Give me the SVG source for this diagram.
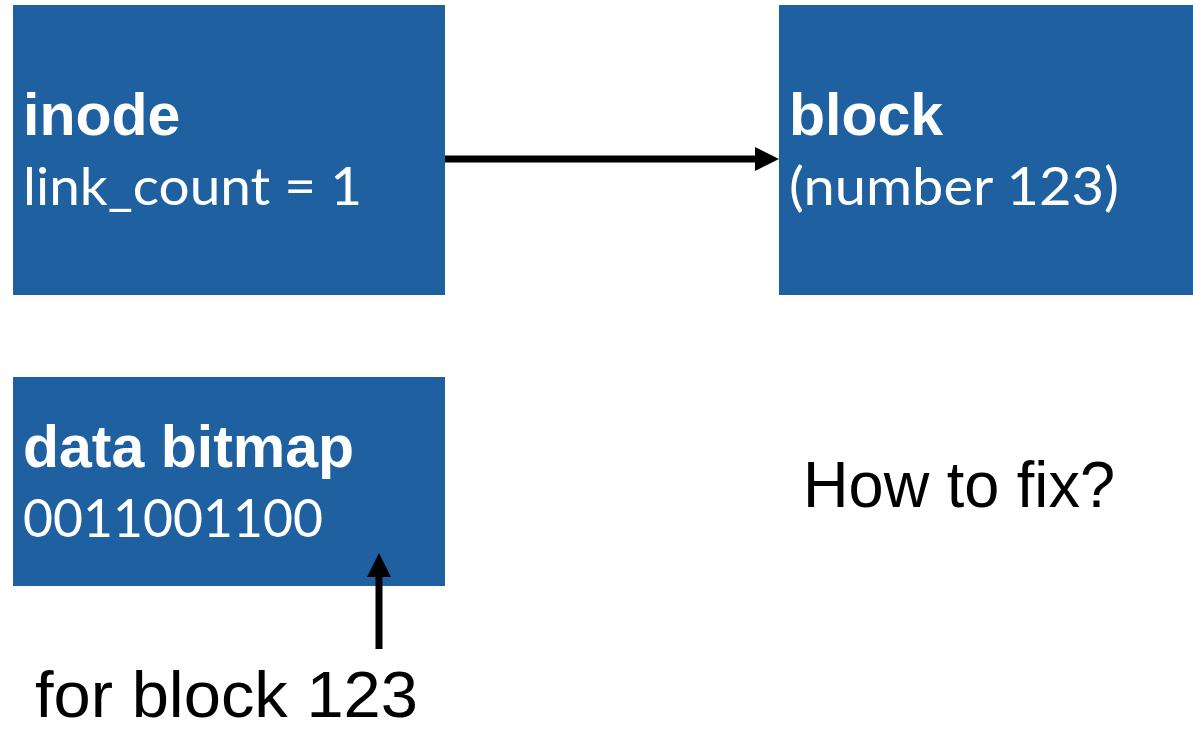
<svg xmlns="http://www.w3.org/2000/svg" width="1193" height="730" viewBox="0 0 1193 730">
<style>
.box{fill:#1f61a0}
.title{font-family:"Liberation Sans",Arial,sans-serif;font-weight:bold;font-size:59px;fill:#fff}
.sub{font-family:Lato,"Noto Sans",sans-serif;font-size:53px;fill:#fff}
.plain{font-family:"Liberation Sans",Arial,sans-serif;font-size:64px;fill:#000}
.conn{stroke:#000;stroke-width:7;fill:none}
</style>
<defs>
<marker id="ah" markerUnits="userSpaceOnUse" markerWidth="24" markerHeight="24" refX="0" refY="12" orient="auto">
<path d="M0,0 L24,12 L0,24 Z" fill="#000"/>
</marker>
</defs>
<rect width="1193" height="730" fill="#fff"/>
<g id="inode">
<rect class="box" x="13" y="5" width="432" height="290"/>
<text class="title" x="23" y="135">inode</text>
<text class="sub" x="23" y="205" textLength="339" lengthAdjust="spacingAndGlyphs">link_count = 1</text>
</g>
<g id="block">
<rect class="box" x="779" y="5" width="414" height="290"/>
<text class="title" x="789" y="135">block</text>
<text class="sub" x="789" y="205" textLength="330" lengthAdjust="spacingAndGlyphs">(number 123)</text>
</g>
<g id="bitmap">
<rect class="box" x="13" y="377" width="432" height="209"/>
<text class="title" x="23" y="467">data bitmap</text>
<text class="sub" x="23" y="537" textLength="300" lengthAdjust="spacingAndGlyphs">0011001100</text>
</g>
<g id="label-block123">
<text class="plain" x="35" y="717" font-size="61" textLength="383" lengthAdjust="spacingAndGlyphs">for block 123</text>
</g>
<g id="label-fix">
<text class="plain" x="803" y="507" textLength="312" lengthAdjust="spacingAndGlyphs">How to fix?</text>
</g>
<g id="connectors">
<line class="conn" x1="445" y1="159" x2="755" y2="159" marker-end="url(#ah)"/>
<line class="conn" x1="379" y1="649" x2="379" y2="577" marker-end="url(#ah)"/>
</g>
</svg>
